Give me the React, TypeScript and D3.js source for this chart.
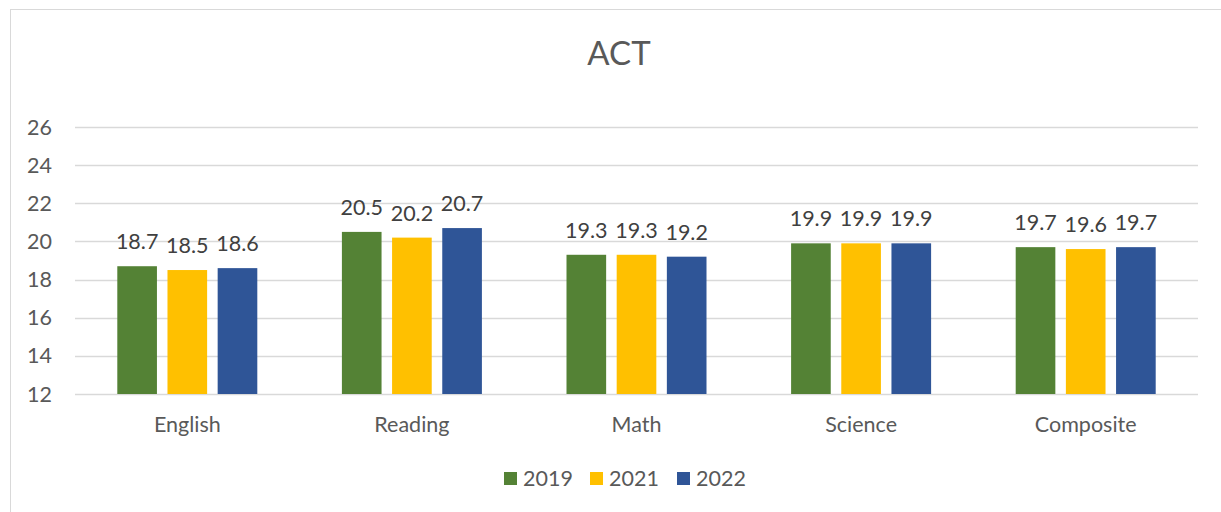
import React from 'react';
import * as d3 from 'd3';

const categories = ['English', 'Reading', 'Math', 'Science', 'Composite'];
const seriesNames = ['2019', '2021', '2022'];
const values2019 = [18.7, 20.5, 19.3, 19.9, 19.7];
const values2021 = [18.5, 20.2, 19.3, 19.9, 19.6];
const values2022 = [18.6, 20.7, 19.2, 19.9, 19.7];
const yTicks = [12, 14, 16, 18, 20, 22, 24, 26];
const colors = ['#548235', '#FFC000', '#2F5597'];

const W = 1221;
const H = 512;
const FONT = 'Lato, Carlito, Calibri, sans-serif';
const FS = 21.5;

export default function App() {
  const series = [values2019, values2021, values2022];

  const x = d3.scaleBand<string>().domain(categories).range([75, 1198]);
  const groupW = 140;
  const x1 = d3.scaleBand<string>().domain(seriesNames).range([0, groupW]).paddingInner(0.21);
  const y = d3.scaleLinear().domain([12, 26]).range([394, 127]);

  const legendX = [504, 590, 677];

  return (
    <svg
      width={W}
      height={H}
      style={{position: 'fixed', left: 0, top: 0, background: 'white'}}
      fontFamily={FONT}
    >
      <rect x={10.5} y={9.5} width={1400} height={700} fill="white" stroke="#d9d9d9" />
      <text x={619} y={65} textAnchor="middle" fontSize={33} fill="#595959">
        ACT
      </text>

      {/* gridlines and y tick labels */}
      {yTicks.map((t) => (
        <g key={t}>
          <line x1={75} x2={1198} y1={Math.round(y(t)) + 0.5} y2={Math.round(y(t)) + 0.5} stroke="#d9d9d9" strokeWidth={1.3} />
          <text x={52} y={y(t)} dy="0.35em" textAnchor="end" fontSize={FS} fill="#595959">
            {t}
          </text>
        </g>
      ))}

      {/* bars */}
      {categories.map((c, ci) => {
        const gx = (x(c) as number) + (x.bandwidth() - groupW) / 2;
        return (
          <g key={c}>
            {series.map((vals, si) => {
              const bx = gx + (x1(seriesNames[si]) as number);
              const top = y(vals[ci]);
              return (
                <g key={si}>
                  <rect x={bx} y={top} width={x1.bandwidth()} height={y(12) - top} fill={colors[si]} />
                  <text
                    x={bx + x1.bandwidth() / 2}
                    y={top - 17}
                    textAnchor="middle"
                    fontSize={FS}
                    fill="#404040"
                  >
                    {vals[ci].toFixed(1)}
                  </text>
                </g>
              );
            })}
            <text x={(x(c) as number) + x.bandwidth() / 2} y={432} textAnchor="middle" fontSize={FS} fill="#595959">
              {c}
            </text>
          </g>
        );
      })}

      {/* legend */}
      {seriesNames.map((s, i) => (
        <g key={s}>
          <rect x={legendX[i]} y={472} width={13} height={13} fill={colors[i]} />
          <text x={legendX[i] + 19} y={486} fontSize={FS} fill="#595959">
            {s}
          </text>
        </g>
      ))}
    </svg>
  );
}
